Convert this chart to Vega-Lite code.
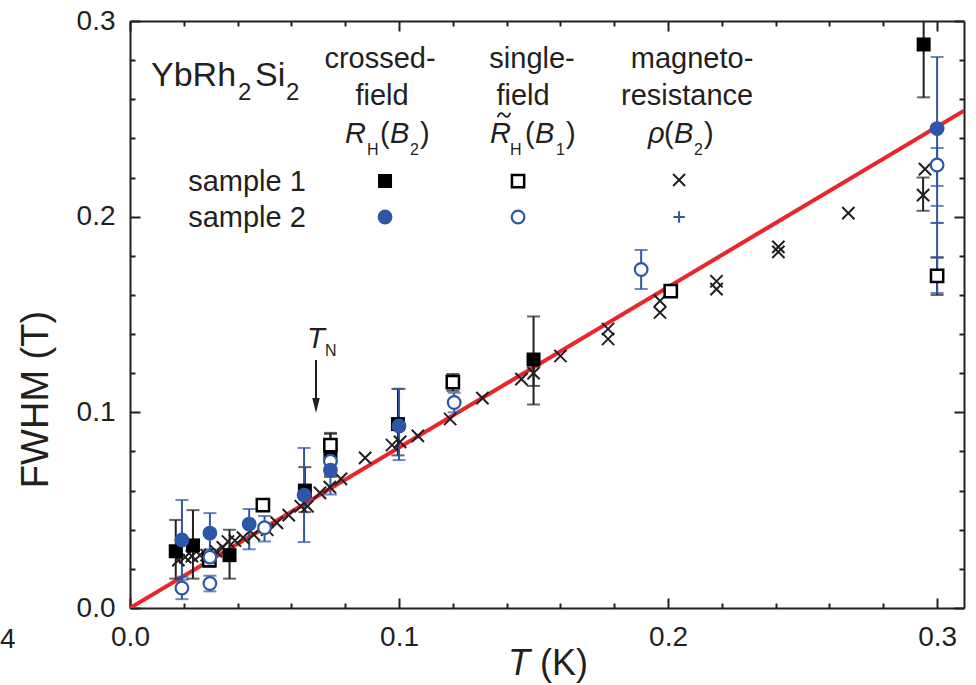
{
  "$schema": "https://vega.github.io/schema/vega-lite/v6.json",
  "width": 834,
  "height": 587,
  "autosize": {"type": "none"},
  "padding": {"left": 130, "top": 21, "right": 12, "bottom": 77},
  "background": "white",
  "config": {
    "view": {"stroke": null},
    "axis": {
      "grid": false,
      "domainColor": "#231f20",
      "tickColor": "#231f20",
      "labelColor": "#231f20",
      "titleColor": "#231f20",
      "labelFont": "Liberation Sans",
      "titleFont": "Liberation Sans",
      "domainWidth": 2,
      "tickWidth": 2,
      "labelFontSize": 28
    }
  },
  "datasets": {
    "fit": [{"T": 0, "W": 0}, {"T": 0.31, "W": 0.2542}],
    "s1c": [
      {"T": 0.017, "W": 0.029, "lo": 0.015, "hi": 0.045},
      {"T": 0.0234, "W": 0.032, "lo": 0.015, "hi": 0.05},
      {"T": 0.037, "W": 0.027, "lo": 0.015, "hi": 0.04},
      {"T": 0.065, "W": 0.06, "lo": 0.049, "hi": 0.072},
      {"T": 0.0745, "W": 0.078, "lo": 0.067, "hi": 0.089},
      {"T": 0.0996, "W": 0.094, "lo": 0.078, "hi": 0.112},
      {"T": 0.15, "W": 0.127, "lo": 0.104, "hi": 0.149},
      {"T": 0.295, "W": 0.288, "lo": 0.261, "hi": 0.315}
    ],
    "s1s": [
      {"T": 0.0295, "W": 0.0245, "lo": 0.021, "hi": 0.028},
      {"T": 0.0494, "W": 0.0526},
      {"T": 0.0745, "W": 0.0833, "lo": 0.077, "hi": 0.0895},
      {"T": 0.12, "W": 0.1155, "lo": 0.111, "hi": 0.1196},
      {"T": 0.201, "W": 0.162},
      {"T": 0.3, "W": 0.1697, "lo": 0.16, "hi": 0.179}
    ],
    "s2c": [
      {"T": 0.0193, "W": 0.0348, "lo": 0.0145, "hi": 0.0552},
      {"T": 0.0297, "W": 0.0383, "lo": 0.028, "hi": 0.0485},
      {"T": 0.0443, "W": 0.0429, "lo": 0.03, "hi": 0.0506},
      {"T": 0.0647, "W": 0.0577, "lo": 0.0337, "hi": 0.0818},
      {"T": 0.0745, "W": 0.0705, "lo": 0.058, "hi": 0.083},
      {"T": 0.1, "W": 0.093, "lo": 0.0756, "hi": 0.112},
      {"T": 0.3, "W": 0.245, "lo": 0.161, "hi": 0.2816}
    ],
    "s2s": [
      {"T": 0.0193, "W": 0.0102, "lo": 0.0045, "hi": 0.016},
      {"T": 0.0297, "W": 0.0125, "lo": 0.0085, "hi": 0.0165},
      {"T": 0.0297, "W": 0.026, "lo": 0.022, "hi": 0.03},
      {"T": 0.05, "W": 0.041, "lo": 0.034, "hi": 0.047},
      {"T": 0.0745, "W": 0.075, "lo": 0.068, "hi": 0.082},
      {"T": 0.1205, "W": 0.105, "lo": 0.1, "hi": 0.11},
      {"T": 0.19, "W": 0.173, "lo": 0.163, "hi": 0.183},
      {"T": 0.3, "W": 0.2264, "lo": 0.2157, "hi": 0.2351}
    ],
    "s2extra": [
      {"T": 0.3, "lo": 0.1794, "hi": 0.2055},
      {"T": 0.3, "lo": 0.1968, "hi": 0.1968}
    ],
    "mr1": [
      {"T": 0.018, "W": 0.0245},
      {"T": 0.0205, "W": 0.026},
      {"T": 0.023, "W": 0.0265},
      {"T": 0.026, "W": 0.027},
      {"T": 0.0285, "W": 0.027},
      {"T": 0.032, "W": 0.029},
      {"T": 0.0345, "W": 0.031},
      {"T": 0.0364, "W": 0.034},
      {"T": 0.039, "W": 0.0345},
      {"T": 0.042, "W": 0.036},
      {"T": 0.046, "W": 0.0375},
      {"T": 0.051, "W": 0.04},
      {"T": 0.0546, "W": 0.0435},
      {"T": 0.059, "W": 0.0475},
      {"T": 0.0635, "W": 0.052},
      {"T": 0.066, "W": 0.052},
      {"T": 0.0706, "W": 0.0588},
      {"T": 0.0743, "W": 0.0618},
      {"T": 0.0784, "W": 0.066},
      {"T": 0.0874, "W": 0.0767},
      {"T": 0.0974, "W": 0.0833},
      {"T": 0.1004, "W": 0.0849},
      {"T": 0.107, "W": 0.088},
      {"T": 0.119, "W": 0.0966},
      {"T": 0.131, "W": 0.1073},
      {"T": 0.1455, "W": 0.117},
      {"T": 0.15, "W": 0.12, "lo": 0.1135, "hi": 0.1265},
      {"T": 0.16, "W": 0.1288},
      {"T": 0.1777, "W": 0.1426},
      {"T": 0.1777, "W": 0.1375},
      {"T": 0.197, "W": 0.157},
      {"T": 0.197, "W": 0.151},
      {"T": 0.218, "W": 0.167},
      {"T": 0.218, "W": 0.163},
      {"T": 0.241, "W": 0.1846},
      {"T": 0.241, "W": 0.182},
      {"T": 0.267, "W": 0.2018},
      {"T": 0.2955, "W": 0.2243},
      {"T": 0.2948, "W": 0.211, "lo": 0.203, "hi": 0.22}
    ]
  },
  "encoding": {
    "x": {"field": "T", "type": "quantitative", "scale": {"domain": [0, 0.31], "nice": false, "zero": false}, "axis": null},
    "y": {"field": "W", "type": "quantitative", "scale": {"domain": [0, 0.3], "nice": false, "zero": false}, "axis": null}
  },
  "resolve": {"scale": {"x": "shared", "y": "shared"}, "axis": {"x": "independent", "y": "independent"}},
  "layer": [
    {
      "data": {"name": "fit"},
      "mark": {"type": "line", "opacity": 0},
      "encoding": {
        "x": {"field": "T", "type": "quantitative", "scale": {"domain": [0, 0.31], "nice": false, "zero": false},
          "axis": {"orient": "bottom", "values": [0, 0.1, 0.2, 0.3], "format": ".1f", "tickSize": -10, "labelPadding": 25, "title": null, "labelFlush": false}},
        "y": {"field": "W", "type": "quantitative", "scale": {"domain": [0, 0.3], "nice": false, "zero": false},
          "axis": {"orient": "left", "values": [0, 0.1, 0.2, 0.3], "format": ".1f", "tickSize": -10, "labelPadding": 25, "labelFlush": false,
            "title": "FWHM (T)", "titleFontSize": 38, "titleFontWeight": "normal", "titleX": -94, "titleY": 378, "titleBaseline": "middle", "titleAlign": "center"}}
      }
    },
    {
      "data": {"name": "fit"},
      "mark": {"type": "line", "opacity": 0},
      "encoding": {
        "x": {"field": "T", "type": "quantitative", "scale": {"domain": [0, 0.31], "nice": false, "zero": false},
          "axis": {"orient": "bottom", "values": [0.02, 0.04, 0.06, 0.08, 0.12, 0.14, 0.16, 0.18, 0.22, 0.24, 0.26, 0.28], "tickSize": -5, "labels": false, "domain": false, "title": null}},
        "y": {"field": "W", "type": "quantitative", "scale": {"domain": [0, 0.3], "nice": false, "zero": false},
          "axis": {"orient": "left", "values": [0.02, 0.04, 0.06, 0.08, 0.12, 0.14, 0.16, 0.18, 0.22, 0.24, 0.26, 0.28], "tickSize": -5, "labels": false, "domain": false, "title": null}}
      }
    },
    {
      "data": {"name": "fit"},
      "mark": {"type": "line", "opacity": 0},
      "encoding": {
        "x": {"field": "T", "type": "quantitative", "scale": {"domain": [0, 0.31], "nice": false, "zero": false},
          "axis": {"orient": "top", "values": [0, 0.1, 0.2, 0.3], "tickSize": -10, "labels": false, "title": null}},
        "y": {"field": "W", "type": "quantitative", "scale": {"domain": [0, 0.3], "nice": false, "zero": false},
          "axis": {"orient": "right", "values": [0, 0.1, 0.2, 0.3], "tickSize": -10, "labels": false, "title": null}}
      }
    },
    {
      "data": {"name": "fit"},
      "mark": {"type": "line", "opacity": 0},
      "encoding": {
        "x": {"field": "T", "type": "quantitative", "scale": {"domain": [0, 0.31], "nice": false, "zero": false},
          "axis": {"orient": "top", "values": [0.02, 0.04, 0.06, 0.08, 0.12, 0.14, 0.16, 0.18, 0.22, 0.24, 0.26, 0.28], "tickSize": -5, "labels": false, "domain": false, "title": null}},
        "y": {"field": "W", "type": "quantitative", "scale": {"domain": [0, 0.3], "nice": false, "zero": false},
          "axis": {"orient": "right", "values": [0.02, 0.04, 0.06, 0.08, 0.12, 0.14, 0.16, 0.18, 0.22, 0.24, 0.26, 0.28], "tickSize": -5, "labels": false, "domain": false, "title": null}}
      }
    },
    {
      "data": {"name": "fit"},
      "mark": {"type": "line", "color": "#e8262b", "strokeWidth": 4, "clip": true}
    },
    {
      "data": {"name": "s1c"},
      "transform": [{"filter": "isValid(datum.lo)"}],
      "layer": [
        {"mark": {"type": "rule", "color": "#231f20", "strokeWidth": 2, "clip": true},
          "encoding": {"y": {"field": "lo", "type": "quantitative", "scale": {"domain": [0, 0.3], "nice": false, "zero": false}, "axis": null}, "y2": {"field": "hi"}}},
        {"mark": {"type": "tick", "orient": "horizontal", "color": "#231f20", "size": 13, "thickness": 2, "clip": true},
          "encoding": {"y": {"field": "lo", "type": "quantitative", "scale": {"domain": [0, 0.3], "nice": false, "zero": false}, "axis": null}}},
        {"mark": {"type": "tick", "orient": "horizontal", "color": "#231f20", "size": 13, "thickness": 2, "clip": true},
          "encoding": {"y": {"field": "hi", "type": "quantitative", "scale": {"domain": [0, 0.3], "nice": false, "zero": false}, "axis": null}}}
      ]
    },
    {
      "data": {"name": "s1s"},
      "transform": [{"filter": "isValid(datum.lo)"}],
      "layer": [
        {"mark": {"type": "rule", "color": "#231f20", "strokeWidth": 2, "clip": true},
          "encoding": {"y": {"field": "lo", "type": "quantitative", "scale": {"domain": [0, 0.3], "nice": false, "zero": false}, "axis": null}, "y2": {"field": "hi"}}},
        {"mark": {"type": "tick", "orient": "horizontal", "color": "#231f20", "size": 13, "thickness": 2, "clip": true},
          "encoding": {"y": {"field": "lo", "type": "quantitative", "scale": {"domain": [0, 0.3], "nice": false, "zero": false}, "axis": null}}},
        {"mark": {"type": "tick", "orient": "horizontal", "color": "#231f20", "size": 13, "thickness": 2, "clip": true},
          "encoding": {"y": {"field": "hi", "type": "quantitative", "scale": {"domain": [0, 0.3], "nice": false, "zero": false}, "axis": null}}}
      ]
    },
    {
      "data": {"name": "mr1"},
      "transform": [{"filter": "isValid(datum.lo)"}],
      "layer": [
        {"mark": {"type": "rule", "color": "#231f20", "strokeWidth": 2, "clip": true},
          "encoding": {"y": {"field": "lo", "type": "quantitative", "scale": {"domain": [0, 0.3], "nice": false, "zero": false}, "axis": null}, "y2": {"field": "hi"}}},
        {"mark": {"type": "tick", "orient": "horizontal", "color": "#231f20", "size": 13, "thickness": 2, "clip": true},
          "encoding": {"y": {"field": "lo", "type": "quantitative", "scale": {"domain": [0, 0.3], "nice": false, "zero": false}, "axis": null}}},
        {"mark": {"type": "tick", "orient": "horizontal", "color": "#231f20", "size": 13, "thickness": 2, "clip": true},
          "encoding": {"y": {"field": "hi", "type": "quantitative", "scale": {"domain": [0, 0.3], "nice": false, "zero": false}, "axis": null}}}
      ]
    },
    {
      "data": {"name": "s2c"},
      "transform": [{"filter": "isValid(datum.lo)"}],
      "layer": [
        {"mark": {"type": "rule", "color": "#2e56a6", "strokeWidth": 2, "clip": true},
          "encoding": {"y": {"field": "lo", "type": "quantitative", "scale": {"domain": [0, 0.3], "nice": false, "zero": false}, "axis": null}, "y2": {"field": "hi"}}},
        {"mark": {"type": "tick", "orient": "horizontal", "color": "#2e56a6", "size": 13, "thickness": 2, "clip": true},
          "encoding": {"y": {"field": "lo", "type": "quantitative", "scale": {"domain": [0, 0.3], "nice": false, "zero": false}, "axis": null}}},
        {"mark": {"type": "tick", "orient": "horizontal", "color": "#2e56a6", "size": 13, "thickness": 2, "clip": true},
          "encoding": {"y": {"field": "hi", "type": "quantitative", "scale": {"domain": [0, 0.3], "nice": false, "zero": false}, "axis": null}}}
      ]
    },
    {
      "data": {"name": "s2s"},
      "transform": [{"filter": "isValid(datum.lo)"}],
      "layer": [
        {"mark": {"type": "rule", "color": "#2e56a6", "strokeWidth": 2, "clip": true},
          "encoding": {"y": {"field": "lo", "type": "quantitative", "scale": {"domain": [0, 0.3], "nice": false, "zero": false}, "axis": null}, "y2": {"field": "hi"}}},
        {"mark": {"type": "tick", "orient": "horizontal", "color": "#2e56a6", "size": 13, "thickness": 2, "clip": true},
          "encoding": {"y": {"field": "lo", "type": "quantitative", "scale": {"domain": [0, 0.3], "nice": false, "zero": false}, "axis": null}}},
        {"mark": {"type": "tick", "orient": "horizontal", "color": "#2e56a6", "size": 13, "thickness": 2, "clip": true},
          "encoding": {"y": {"field": "hi", "type": "quantitative", "scale": {"domain": [0, 0.3], "nice": false, "zero": false}, "axis": null}}}
      ]
    },
    {
      "data": {"name": "s2extra"},
      "layer": [
        {"mark": {"type": "tick", "orient": "horizontal", "color": "#2e56a6", "size": 13, "thickness": 2, "clip": true},
          "encoding": {"y": {"field": "lo", "type": "quantitative", "scale": {"domain": [0, 0.3], "nice": false, "zero": false}, "axis": null}}},
        {"mark": {"type": "tick", "orient": "horizontal", "color": "#2e56a6", "size": 13, "thickness": 2, "clip": true},
          "encoding": {"y": {"field": "hi", "type": "quantitative", "scale": {"domain": [0, 0.3], "nice": false, "zero": false}, "axis": null}}}
      ]
    },
    {
      "data": {"name": "mr1"},
      "mark": {"type": "point", "shape": "M-1,-1L1,1M1,-1L-1,1", "size": 150, "filled": false, "stroke": "#231f20", "strokeWidth": 2, "opacity": 1}
    },
    {
      "data": {"name": "s1c"},
      "mark": {"type": "point", "shape": "square", "size": 196, "filled": true, "color": "#000000", "opacity": 1, "clip": true}
    },
    {
      "data": {"name": "s1s"},
      "mark": {"type": "point", "shape": "square", "size": 150, "filled": true, "fill": "white", "stroke": "#000000", "strokeWidth": 2.5, "opacity": 1}
    },
    {
      "data": {"name": "s2s"},
      "mark": {"type": "point", "shape": "circle", "size": 160, "filled": true, "fill": "white", "stroke": "#2e56a6", "strokeWidth": 2.2, "opacity": 1}
    },
    {
      "data": {"name": "s2c"},
      "mark": {"type": "point", "shape": "circle", "size": 220, "filled": true, "color": "#2e56a6", "opacity": 1}
    },
    {
      "data": {"values": [{"T": 0.0948, "W": 0.21822}]},
      "mark": {"type": "point", "shape": "square", "size": 196, "filled": true, "color": "#000000", "opacity": 1}
    },
    {
      "data": {"values": [{"T": 0.14424, "W": 0.21822}]},
      "mark": {"type": "point", "shape": "square", "size": 150, "filled": true, "fill": "white", "stroke": "#000000", "strokeWidth": 2.5, "opacity": 1}
    },
    {
      "data": {"values": [{"T": 0.20409, "W": 0.21873}]},
      "mark": {"type": "point", "shape": "M-1,-1L1,1M1,-1L-1,1", "size": 144, "filled": false, "stroke": "#231f20", "strokeWidth": 2, "opacity": 1}
    },
    {
      "data": {"values": [{"T": 0.0948, "W": 0.19983}]},
      "mark": {"type": "point", "shape": "circle", "size": 220, "filled": true, "color": "#2e56a6", "opacity": 1}
    },
    {
      "data": {"values": [{"T": 0.14424, "W": 0.19983}]},
      "mark": {"type": "point", "shape": "circle", "size": 160, "filled": true, "fill": "white", "stroke": "#2e56a6", "strokeWidth": 2.2, "opacity": 1}
    },
    {
      "data": {"values": [{"T": 0.20409, "W": 0.19983}]},
      "mark": {"type": "point", "shape": "M-1,0L1,0M0,-1L0,1", "size": 130, "filled": false, "stroke": "#2e56a6", "strokeWidth": 2, "opacity": 1}
    },
    {
      "data": {"values": [{"T": 0.13903, "W": 0.25195}]},
      "mark": {"type": "point", "shape": "M-1,0.35C-0.7,-0.45 -0.3,-0.45 0,0C0.3,0.45 0.7,0.45 1,-0.35", "size": 160, "filled": false, "stroke": "#231f20", "strokeWidth": 1.8, "opacity": 1}
    },
    {
      "data": {"values": [{"T": 0.06914, "W": 0.12674, "W2": 0.1063}]},
      "mark": {"type": "rule", "color": "#231f20", "strokeWidth": 2},
      "encoding": {"y2": {"field": "W2"}}
    },
    {
      "data": {"values": [{"T": 0.06914, "W": 0.10349}]},
      "mark": {"type": "point", "shape": "M-0.5,-1L0.5,-1L0,1Z", "size": 225, "filled": true, "color": "#231f20", "opacity": 1}
    },
    {
      "data": {"values": [
        {"T": 0.00781, "W": 0.26677, "txt": "YbRh"},
        {"T": 0.04647, "W": 0.26677, "txt": "Si"}
      ]},
      "mark": {"type": "text", "font": "Liberation Sans", "fontSize": 34, "align": "left", "baseline": "alphabetic", "color": "#231f20"},
      "encoding": {"text": {"field": "txt"}}
    },
    {
      "data": {"values": [
        {"T": 0.04015, "W": 0.25962, "txt": "2"},
        {"T": 0.05799, "W": 0.25962, "txt": "2"}
      ]},
      "mark": {"type": "text", "font": "Liberation Sans", "fontSize": 24, "align": "left", "baseline": "alphabetic", "color": "#231f20"},
      "encoding": {"text": {"field": "txt"}}
    },
    {
      "data": {"values": [
        {"T": 0.09294, "W": 0.27597, "txt": "crossed-"},
        {"T": 0.09368, "W": 0.25706, "txt": "field"},
        {"T": 0.14944, "W": 0.27597, "txt": "single-"},
        {"T": 0.1461, "W": 0.25706, "txt": "field"},
        {"T": 0.20892, "W": 0.27597, "txt": "magneto-"},
        {"T": 0.20706, "W": 0.25706, "txt": "resistance"},
        {"T": 0.04349, "W": 0.21311, "txt": "sample 1"},
        {"T": 0.04349, "W": 0.19472, "txt": "sample 2"}
      ]},
      "mark": {"type": "text", "font": "Liberation Sans", "fontSize": 29, "align": "center", "baseline": "alphabetic", "color": "#231f20"},
      "encoding": {"text": {"field": "txt"}}
    },
    {
      "data": {"values": [
        {"T": 0.07993, "W": 0.23764, "txt": "R"},
        {"T": 0.09665, "W": 0.23764, "txt": "B"},
        {"T": 0.13383, "W": 0.23764, "txt": "R"},
        {"T": 0.15056, "W": 0.23764, "txt": "B"},
        {"T": 0.19257, "W": 0.23764, "txt": "ρ"},
        {"T": 0.20223, "W": 0.23764, "txt": "B"},
        {"T": 0.0658, "W": 0.13288, "txt": "T"}
      ]},
      "mark": {"type": "text", "font": "Liberation Sans", "fontSize": 29, "fontStyle": "italic", "align": "left", "baseline": "alphabetic", "color": "#231f20"},
      "encoding": {"text": {"field": "txt"}}
    },
    {
      "data": {"values": [
        {"T": 0.09294, "W": 0.23764, "txt": "("},
        {"T": 0.10781, "W": 0.23764, "txt": ")"},
        {"T": 0.14684, "W": 0.23764, "txt": "("},
        {"T": 0.16208, "W": 0.23764, "txt": ")"},
        {"T": 0.19851, "W": 0.23764, "txt": "("},
        {"T": 0.21338, "W": 0.23764, "txt": ")"}
      ]},
      "mark": {"type": "text", "font": "Liberation Sans", "fontSize": 29, "align": "left", "baseline": "alphabetic", "color": "#231f20"},
      "encoding": {"text": {"field": "txt"}}
    },
    {
      "data": {"values": [
        {"T": 0.0881, "W": 0.23151, "txt": "H"},
        {"T": 0.10409, "W": 0.23151, "txt": "2"},
        {"T": 0.14126, "W": 0.23151, "txt": "H"},
        {"T": 0.15836, "W": 0.23151, "txt": "1"},
        {"T": 0.20967, "W": 0.23151, "txt": "2"},
        {"T": 0.07249, "W": 0.12879, "txt": "N"}
      ]},
      "mark": {"type": "text", "font": "Liberation Sans", "fontSize": 16, "align": "left", "baseline": "alphabetic", "color": "#231f20"},
      "encoding": {"text": {"field": "txt"}}
    },
    {
      "data": {"values": [{"T": 0.14052, "W": -0.03424, "txt": "T"}]},
      "mark": {"type": "text", "font": "Liberation Sans", "fontSize": 36, "fontStyle": "italic", "align": "left", "baseline": "alphabetic", "color": "#231f20"},
      "encoding": {"text": {"field": "txt"}}
    },
    {
      "data": {"values": [{"T": 0.15242, "W": -0.03424, "txt": "(K)"}]},
      "mark": {"type": "text", "font": "Liberation Sans", "fontSize": 36, "align": "left", "baseline": "alphabetic", "color": "#231f20"},
      "encoding": {"text": {"field": "txt"}}
    },
    {
      "data": {"values": [{"T": -0.04833, "W": -0.02044, "txt": "4"}]},
      "mark": {"type": "text", "font": "Liberation Sans", "fontSize": 28, "align": "left", "baseline": "alphabetic", "color": "#231f20"},
      "encoding": {"text": {"field": "txt"}}
    }
  ]
}
